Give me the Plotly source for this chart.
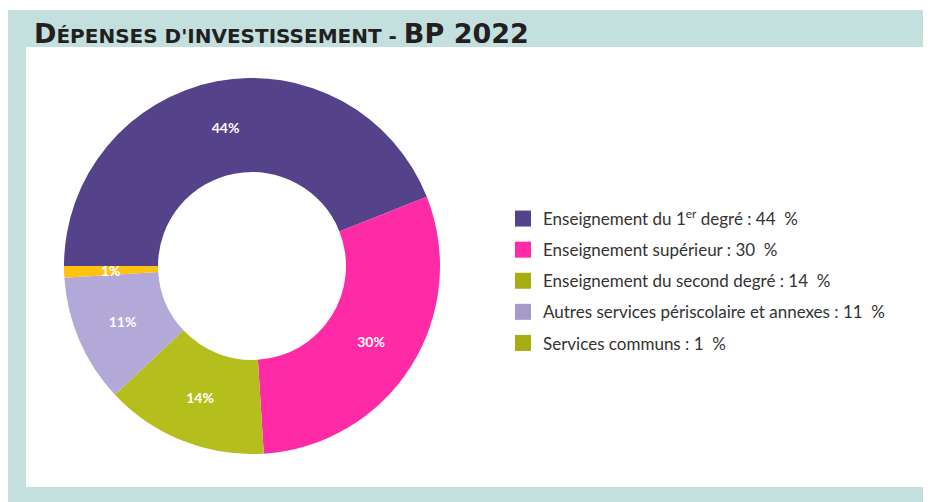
import math
import plotly.graph_objects as go

# données
labels = ['Enseignement du 1<sup>er</sup> degré', 'Enseignement supérieur',
          'Enseignement du second degré', 'Autres services périscolaire et annexes',
          'Services communs']
values = [44, 30, 14, 11, 1]
slice_colors = ['#54438b', '#ff2ba6', '#b4bf1d', '#b3a9d8', '#ffc20e']
legend_colors = ['#54438b', '#ff2ba6', '#a7ae14', '#a59bc6', '#a7ae14']
title_big = ['D', 'BP 2022']
title_small = ["ÉPENSES D'INVESTISSEMENT - "]

W, H = 931, 502
# la page a une marge de 8px : coordonnées figure = écran - 8
CX, CY, R, HOLE = 244, 258, 188, 0.5
ROT = 270

fig = go.Figure()

# donut (le 1% est étiqueté à part, trop petit pour plotly)
fig.add_trace(go.Pie(
    labels=labels, values=values, sort=False, direction='clockwise',
    rotation=ROT, hole=HOLE,
    marker=dict(colors=slice_colors, line=dict(width=0)),
    texttemplate='%{value}%',
    textposition=['inside'] * (len(values) - 1) + ['none'],
    insidetextorientation='horizontal',
    textfont=dict(family='Lato', size=14, color='white', weight='bold'),
    domain=dict(x=[(CX - R) / W, (CX + R) / W],
                y=[1 - (CY + R) / H, 1 - (CY - R) / H]),
    showlegend=False, hoverinfo='label+percent',
))

# position du libellé de la dernière tranche
tot = sum(values)
mid = (sum(values[:-1]) + values[-1] / 2) / tot
ang = math.radians(ROT + 360 * mid)
rm = R * (1 + HOLE) / 2
lx = (CX + rm * math.sin(ang)) / W
ly = 1 - (CY - rm * math.cos(ang)) / H

# légende (carrés)
for i, (lab, v, c) in enumerate(zip(labels, values, legend_colors)):
    fig.add_trace(go.Scatter(
        x=[None], y=[None], mode='markers', name=f'{lab} : {v}  %',
        marker=dict(symbol='square', size=17, color=c),
        legendgroup=str(i), showlegend=True,
    ))

title_txt = (f'<span style="font-size:27px">{title_big[0]}</span>'
             f'{title_small[0]}'
             f'<span style="font-size:27px">{title_big[1]}</span>')

fig.update_layout(
    width=W, height=H,
    paper_bgcolor='white', plot_bgcolor='rgba(0,0,0,0)',
    margin=dict(l=0, r=0, t=0, b=0),
    xaxis=dict(visible=False), yaxis=dict(visible=False),
    legend=dict(x=495 / W, y=1 - 193 / H, xanchor='left', yanchor='top',
                font=dict(family='Lato', size=17, color='#333333'),
                bgcolor='rgba(0,0,0,0)', tracegroupgap=6,
                itemclick=False, itemdoubleclick=False),
    shapes=[
        dict(type='rect', xref='paper', yref='paper', layer='below',
             x0=0, x1=1, y0=0, y1=1 - 2 / H,
             fillcolor='#c4e0de', line=dict(width=0)),
        dict(type='rect', xref='paper', yref='paper', layer='below',
             x0=18 / W, x1=921 / W, y0=1 - 479 / H, y1=1 - 39 / H,
             fillcolor='white', line=dict(width=0)),
    ],
    annotations=[
        dict(text=title_txt, xref='paper', yref='paper', x=24 / W, y=1 - 26 / H,
             xanchor='left', yanchor='middle', showarrow=False,
             font=dict(family='DejaVu Sans', size=20, color='#231f20', weight='bold')),
        dict(text=f'{values[-1]}%', xref='paper', yref='paper', x=lx, y=ly,
             xanchor='center', yanchor='middle', showarrow=False,
             font=dict(family='Lato', size=14, color='white', weight='bold')),
    ],
    uniformtext=dict(minsize=14, mode='show'),
)

fig.write_html('out.html')
